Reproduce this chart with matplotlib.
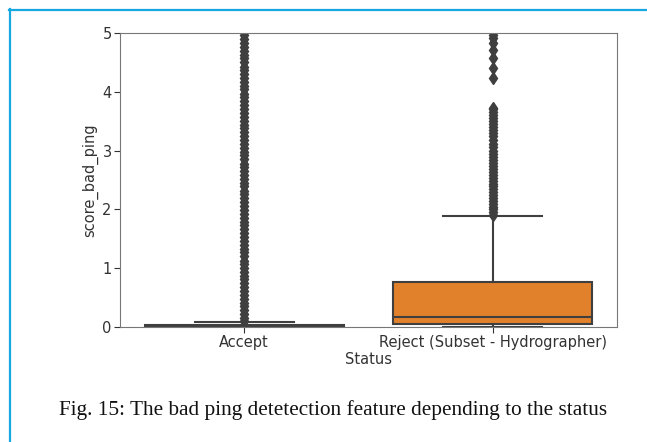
import matplotlib
matplotlib.use("Agg")
import matplotlib.pyplot as plt
from matplotlib.lines import Line2D

# box statistics
categories = ['Accept', 'Reject (Subset - Hydrographer)']
q1 = [0.0, 0.045]
med = [0.01, 0.17]
q3 = [0.03, 0.77]
whislo = [0.0, 0.0]
whishi = [0.08, 1.88]

accept_fliers = [0.10, 0.16, 0.22, 0.29, 0.35, 0.41, 0.48, 0.55, 0.61, 0.68,
                 0.74, 0.81, 0.87, 0.94, 1.00, 1.07, 1.13, 1.20, 1.27, 1.33,
                 1.40, 1.46, 1.53, 1.60, 1.66, 1.73, 1.79, 1.86, 1.93, 1.99,
                 2.06, 2.12, 2.19, 2.26, 2.32, 2.39, 2.45, 2.52, 2.59, 2.65,
                 2.72, 2.78, 2.85, 2.92, 2.98, 3.05, 3.11, 3.18, 3.25, 3.31,
                 3.38, 3.44, 3.51, 3.58, 3.64, 3.71, 3.77, 3.84, 3.91, 3.97,
                 4.04, 4.10, 4.17, 4.24, 4.30, 4.37, 4.43, 4.50, 4.57, 4.63,
                 4.70, 4.76, 4.83, 4.90, 4.96, 5.03]
reject_fliers = [1.90, 1.95, 2.00, 2.04, 2.09, 2.14, 2.19, 2.24, 2.29, 2.34,
                 2.39, 2.44, 2.49, 2.54, 2.59, 2.64, 2.69, 2.74, 2.79, 2.84,
                 2.89, 2.95, 3.00, 3.06, 3.12, 3.18, 3.24, 3.30, 3.35, 3.40,
                 3.45, 3.50, 3.55, 3.60, 3.65, 3.70, 3.73,
                 4.23, 4.40, 4.58, 4.71, 4.83, 4.91, 4.97, 5.02]

box_colors = ['#3274a1', '#e1812c']
line_col = '#3f3f3f'

stats = []
for i in range(2):
    stats.append(dict(label=categories[i], q1=q1[i], med=med[i], q3=q3[i],
                      whislo=whislo[i], whishi=whishi[i],
                      fliers=[accept_fliers, reject_fliers][i]))

fig = plt.figure(figsize=(6.47, 4.42), dpi=100)
ax = fig.add_axes([0.1855, 0.2602, 0.7681, 0.6651])

bp = ax.bxp(stats, positions=[0, 1], widths=0.8, patch_artist=True,
            boxprops=dict(edgecolor=line_col, linewidth=1.5),
            medianprops=dict(color=line_col, linewidth=1.5),
            whiskerprops=dict(color=line_col, linewidth=1.5),
            capprops=dict(color=line_col, linewidth=1.5),
            flierprops=dict(marker='d', markersize=6.5, markerfacecolor=line_col,
                            markeredgecolor=line_col))
for patch, c in zip(bp['boxes'], box_colors):
    patch.set_facecolor(c)

ax.set_xlim(-0.5, 1.5)
ax.set_ylim(0, 5)
ax.set_xticks([0, 1])
ax.set_xticklabels(categories)
ax.set_yticks([0, 1, 2, 3, 4, 5])
ax.set_xlabel('Status', fontsize=10.5, color='#333333', labelpad=1)
ax.set_ylabel('score_bad_ping', fontsize=10.5, color='#333333', labelpad=3)
ax.tick_params(labelsize=10.5, colors='#333333', length=4, pad=2)
for s in ax.spines.values():
    s.set_color('#777777')

# document frame and caption
fig.add_artist(Line2D([9.5 / 647, 9.5 / 647], [0, 1 - 9 / 442], transform=fig.transFigure,
                      color='#16a9e1', linewidth=1.6))
fig.add_artist(Line2D([9 / 647, 1], [1 - 9.5 / 442, 1 - 9.5 / 442], transform=fig.transFigure,
                      color='#16a9e1', linewidth=1.6))
fig.text(333 / 647, 1 - 410 / 442, 'Fig. 15: The bad ping detetection feature depending to the status',
         family='Liberation Serif', fontsize=15.3, ha='center', va='center', color='#111111')

fig.savefig('out.png', dpi=100)
